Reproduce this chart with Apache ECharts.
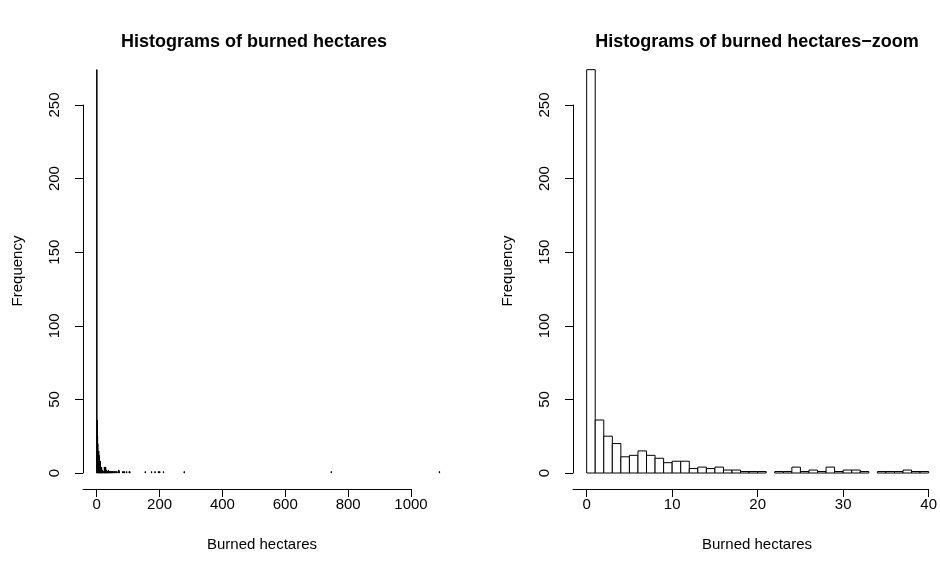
<!DOCTYPE html>
<html>
<head>
<meta charset="utf-8">
<script src="https://cdn.jsdelivr.net/npm/echarts@6/dist/echarts.min.js"></script>
<style>
  html, body { margin: 0; padding: 0; background: #fff; }
  #chart { width: 940px; height: 567px; }
</style>
</head>
<body>
<div id="chart"></div>
<script>
// Burned area histograms, bins of width 1 ha
const zoomBinStarts = [0,1,2,3,4,5,6,7,8,9,10,11,12,13,14,15,16,17,18,19,
                       20,21,22,23,24,25,26,27,28,29,30,31,32,33,34,35,36,37,38,39];
const zoomCounts    = [274,36,25,20,11,12,15,12,10,7,8,8,3,4,3,4,2,2,1,1,
                       1,0,1,1,4,1,2,1,4,1,2,2,1,0,1,1,1,2,1,1];
// Sparse tail beyond 40 ha (bin start, count)
const tailBinStarts = [40,42,43,44,46,48,49,51,54,56,58,61,64,70,71,82,86,88,95,
                       103,105,154,174,185,196,200,212,278,746,1090];
const tailCounts    = [1,1,1,1,1,1,1,1,1,1,1,1,1,2,1,1,1,1,1,
                       1,1,1,1,1,1,1,1,1,1,1];

const fullTicksX = [0, 200, 400, 600, 800, 1000];
const zoomTicksX = [0, 10, 20, 30, 40];
const freqTicks  = [0, 50, 100, 150, 200, 250];

const titles = ['Histograms of burned hectares', 'Histograms of burned hectares\u2212zoom'];
const xName = 'Burned hectares';
const yName = 'Frequency';

function bins(starts, counts) {
  const out = [];
  starts.forEach((s, i) => { if (counts[i] > 0) out.push([s, counts[i], s + 1]); });
  return out;
}
const zoomData = bins(zoomBinStarts, zoomCounts);
const fullData = zoomData.concat(bins(tailBinStarts, tailCounts));

const FONT = '"Liberation Sans", Arial, Helvetica, sans-serif';
const yMin = freqTicks[0], yMax = freqTicks[freqTicks.length - 1], yStep = freqTicks[1] - freqTicks[0];

// Panel layout: the frequency axis sits at the grid's left edge, a small
// gap before the first x tick, so the x range starts slightly below zero.
const panels = [
  { axisX: 83,  zeroX: 96.7,  lastX: 411,   ticks: fullTicksX },
  { axisX: 573, zeroX: 586.7, lastX: 929.3, ticks: zoomTicksX }
];
panels.forEach(p => {
  const last = p.ticks[p.ticks.length - 1];
  const pxPerUnit = (p.lastX - p.zeroX) / last;
  p.min = -(p.zeroX - p.axisX) / pxPerUnit;
  p.max = last;
});

// each item: [bin start, count, bin end]
function histRender(fill) {
  return function (params, api) {
    const p0 = api.coord([api.value(0), api.value(1)]);
    const p1 = api.coord([api.value(2), 0]);
    return {
      type: 'rect',
      shape: { x: p0[0], y: p0[1], width: p1[0] - p0[0], height: p1[1] - p0[1] },
      style: { fill: fill, stroke: '#000', lineWidth: 1 }
    };
  };
}

function tickStyle(extra) {
  return Object.assign({ show: true, inside: false, length: 8, lineStyle: { color: '#000', width: 1 } }, extra || {});
}
function lineCfg() { return { show: true, onZero: false, lineStyle: { color: '#000', width: 1 } }; }

function xAxisCfg(idx) {
  const p = panels[idx];
  return {
    gridIndex: idx, type: 'value', min: p.min, max: p.max,
    offset: 16,
    axisLine: lineCfg(),
    axisTick: tickStyle({ customValues: p.ticks }),
    axisLabel: { fontFamily: FONT, fontSize: 15, color: '#000', margin: 8,
                 customValues: p.ticks, formatter: v => String(v) },
    splitLine: { show: false }
  };
}
function yAxisCfg(idx) {
  return {
    gridIndex: idx, type: 'value', min: yMin, max: yMax, interval: yStep,
    position: 'left',
    axisLine: lineCfg(), axisTick: tickStyle(),
    axisLabel: { fontFamily: FONT, fontSize: 15, color: '#000', rotate: 90, margin: 21,
                 formatter: v => String(v) },
    splitLine: { show: false }
  };
}

function label(text, x, y, size, weight, rot) {
  return {
    type: 'text', x: x, y: y, rotation: rot || 0,
    style: { text: text, fontFamily: FONT, fontSize: size, fontWeight: weight, fill: '#000',
             textAlign: 'center', textVerticalAlign: 'middle' }
  };
}

const chart = echarts.init(document.getElementById('chart'));
chart.setOption({
  animation: false,
  grid: panels.map(p => ({ left: p.axisX, width: p.lastX - p.axisX, top: 105, height: 368 })),
  xAxis: [xAxisCfg(0), xAxisCfg(1)],
  yAxis: [yAxisCfg(0), yAxisCfg(1)],
  series: [
    { type: 'custom', xAxisIndex: 0, yAxisIndex: 0, clip: false,
      encode: { x: [0, 2], y: 1 },
      renderItem: histRender('#000'), data: fullData },
    { type: 'custom', xAxisIndex: 1, yAxisIndex: 1, clip: false,
      encode: { x: [0, 2], y: 1 },
      renderItem: histRender('#fff'), data: zoomData }
  ],
  graphic: [
    label(titles[0], 254, 42, 18, 'bold'),
    label(titles[1], 757, 42, 18, 'bold'),
    label(xName, 262, 545, 15, 'normal'),
    label(xName, 757, 545, 15, 'normal'),
    label(yName, 18, 271, 15, 'normal', Math.PI / 2),
    label(yName, 508, 271, 15, 'normal', Math.PI / 2)
  ]
});
</script>
</body>
</html>
